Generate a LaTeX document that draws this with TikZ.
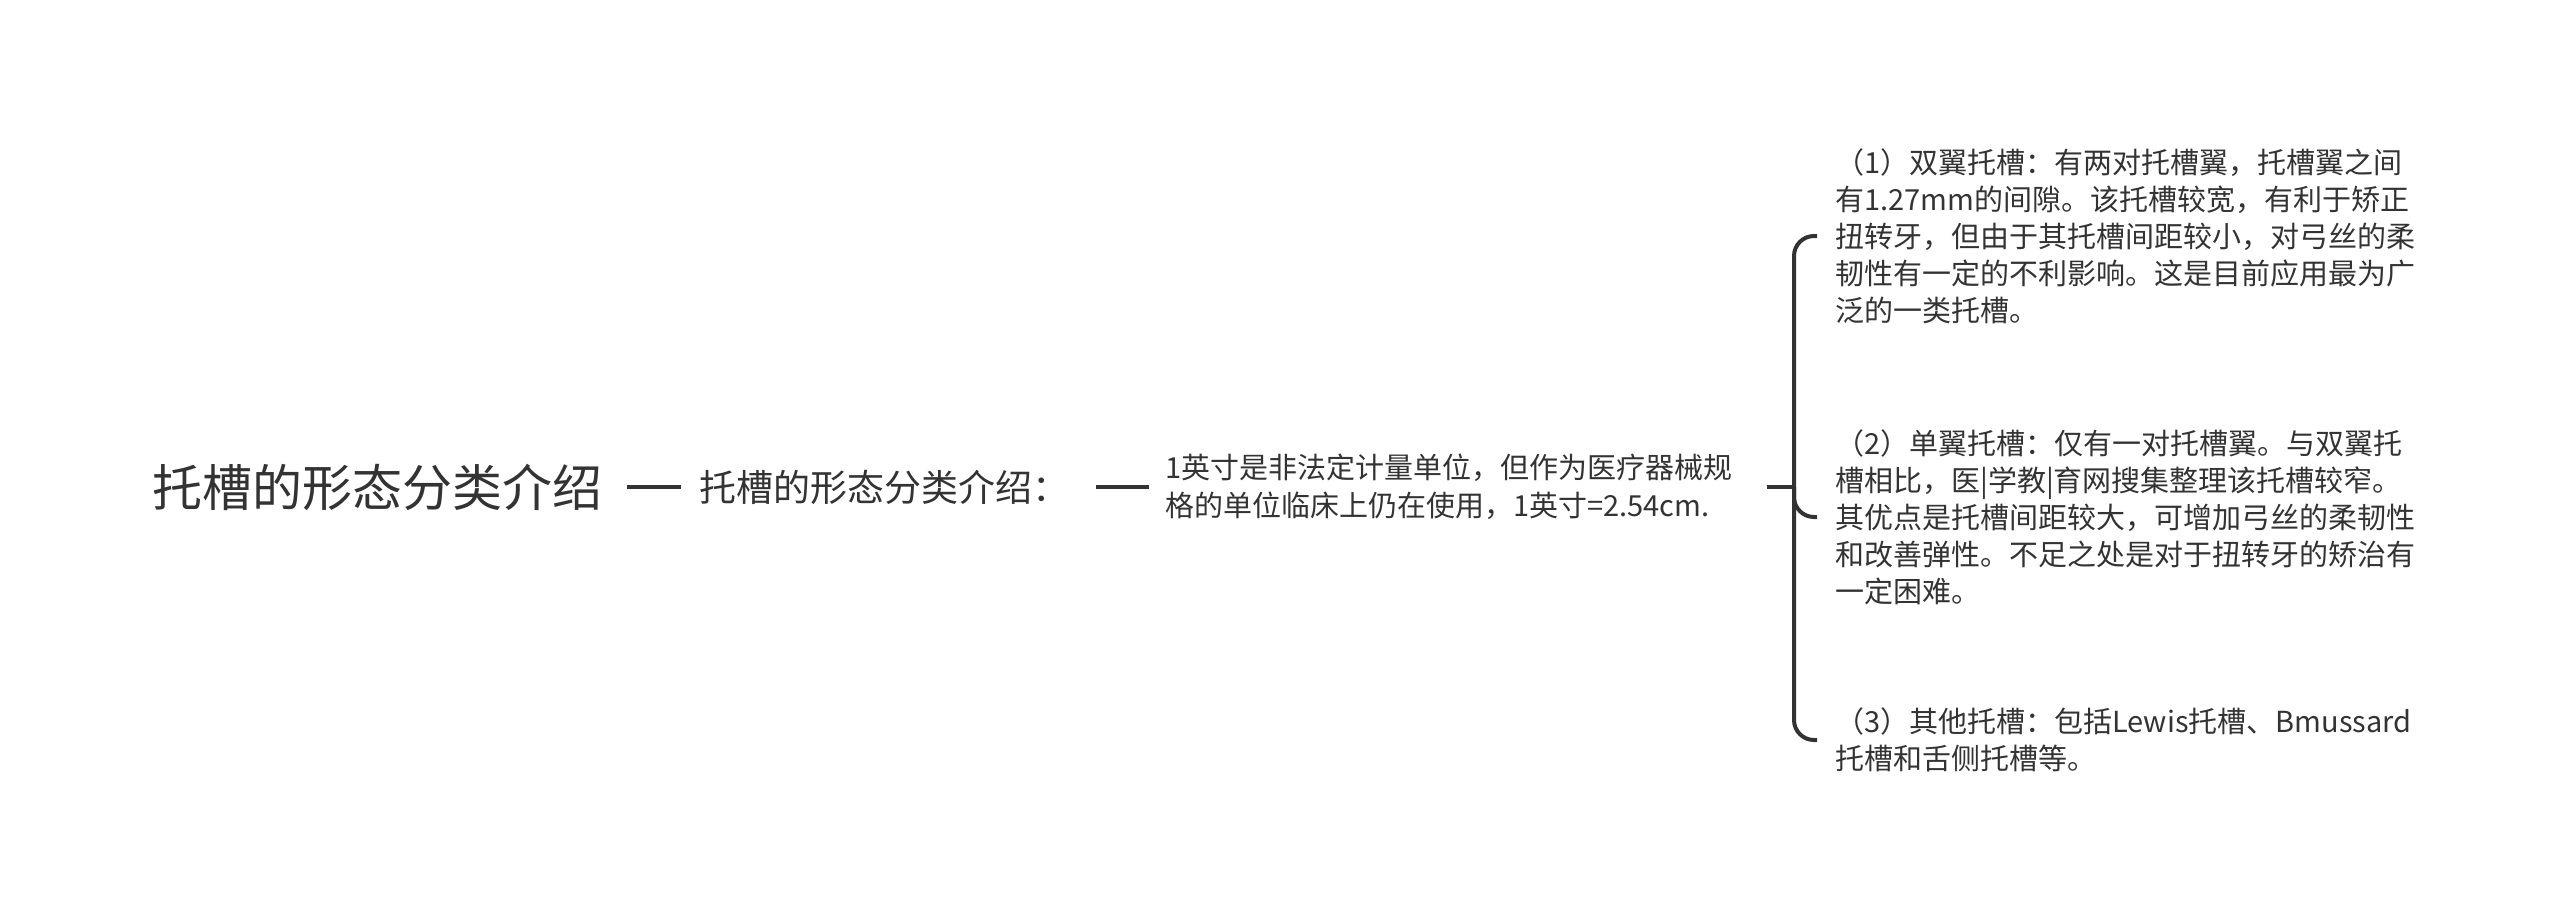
\documentclass[tikz,border=0pt]{standalone}
\usepackage{fontspec}
\setmainfont{Noto Sans CJK SC}
\definecolor{ink}{HTML}{333333}
\tikzset{topic/.style={text=ink, inner sep=0pt, anchor=west, align=left},
  link/.style={draw=ink, line width=4pt}}

\begin{document}
\begin{tikzpicture}[x=1pt, y=-1pt]
  \useasboundingbox (0,0) rectangle (2560,916);

  \node (root) [topic, font=\fontsize{50}{60}\selectfont] at (152, 487) {托槽的形态分类介绍};
  \node (sub) [topic, font=\fontsize{37}{44}\selectfont] at (699, 487) {托槽的形态分类介绍：};
  \node (desc) [topic, font=\fontsize{29}{38}\selectfont] at (1165, 487)
    {1英寸是非法定计量单位，但作为医疗器械规\\格的单位临床上仍在使用，1英寸=2.54cm.};

  \node (c1) [topic, font=\fontsize{29}{37}\selectfont] at (1835, 236)
    {（1）双翼托槽：有两对托槽翼，托槽翼之间\\有1.27mm的间隙。该托槽较宽，有利于矫正\\扭转牙，但由于其托槽间距较小，对弓丝的柔\\韧性有一定的不利影响。这是目前应用最为广\\泛的一类托槽。};
  \node (c2) [topic, font=\fontsize{29}{37}\selectfont] at (1835, 517)
    {（2）单翼托槽：仅有一对托槽翼。与双翼托\\槽相比，医|学教|育网搜集整理该托槽较窄。\\其优点是托槽间距较大，可增加弓丝的柔韧性\\和改善弹性。不足之处是对于扭转牙的矫治有\\一定困难。};
  \node (c3) [topic, font=\fontsize{29}{37}\selectfont] at (1835, 740)
    {（3）其他托槽：包括Lewis托槽、Bmussard\\托槽和舌侧托槽等。};

  \coordinate (fork) at (1794, 487);

  \draw [link] ([xshift=25]root.east) -- ([xshift=-18]sub.west);
  \draw [link] ([xshift=27]sub.east) -- ([xshift=-16]desc.west);
  \draw [link] ([xshift=34]desc.east) -- (fork);
  % bracket to the three kinds
  \draw [link, rounded corners=20] (fork) |- ([xshift=-18]c1.west);
  \draw [link, rounded corners=20] (fork) |- ([xshift=-18]c2.west);
  \draw [link, rounded corners=20] (fork) |- ([xshift=-18]c3.west);
\end{tikzpicture}
\end{document}
